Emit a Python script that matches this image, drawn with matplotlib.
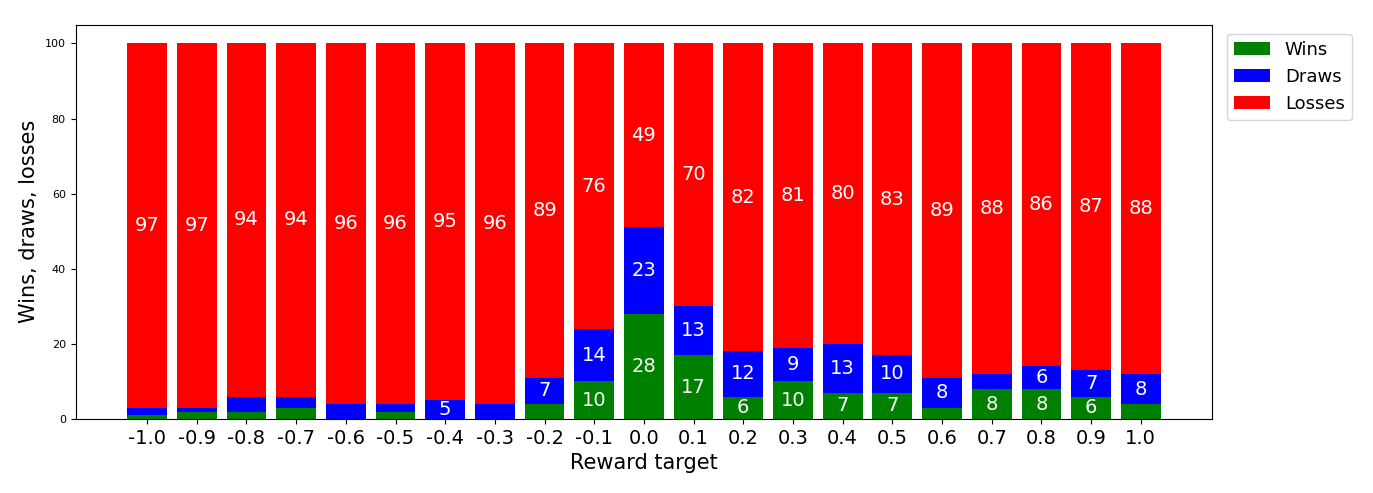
import matplotlib
matplotlib.use("Agg")
import matplotlib.pyplot as plt
import numpy as np

targets = ['-1.0', '-0.9', '-0.8', '-0.7', '-0.6', '-0.5', '-0.4', '-0.3', '-0.2', '-0.1', '0.0',
           '0.1', '0.2', '0.3', '0.4', '0.5', '0.6', '0.7', '0.8', '0.9', '1.0']
wins = [1, 2, 2, 3, 0, 2, 0, 0, 4, 10, 28, 17, 6, 10, 7, 7, 3, 8, 8, 6, 4]
draws = [2, 1, 4, 3, 4, 2, 5, 4, 7, 14, 23, 13, 12, 9, 13, 10, 8, 4, 6, 7, 8]
losses = [97, 97, 94, 94, 96, 96, 95, 96, 89, 76, 49, 70, 82, 81, 80, 83, 89, 88, 86, 87, 88]

x = np.arange(len(targets))
wins = np.array(wins); draws = np.array(draws); losses = np.array(losses)

fig, ax = plt.subplots(figsize=(13.73, 4.93), dpi=100)
b1 = ax.bar(x, wins, 0.8, color='green', label='Wins')
b2 = ax.bar(x, draws, 0.8, bottom=wins, color='blue', label='Draws')
b3 = ax.bar(x, losses, 0.8, bottom=wins + draws, color='red', label='Losses')

for bars, vals in [(b1, wins), (b2, draws), (b3, losses)]:
    labels = [str(v) if v >= 5 else '' for v in vals]
    ax.bar_label(bars, labels=labels, label_type='center', color='white', fontsize=14)

ax.set_xticks(x)
ax.set_xticklabels(targets, fontsize=14)
ax.tick_params(axis='y', labelsize=8)
ax.set_xlabel('Reward target', fontsize=15)
ax.set_ylabel('Wins, draws, losses', fontsize=15)
ax.legend(loc='upper left', bbox_to_anchor=(1.005, 1.0), fontsize=13)
fig.subplots_adjust(left=0.055, right=0.883, top=0.95, bottom=0.15)
fig.savefig('out.png')
